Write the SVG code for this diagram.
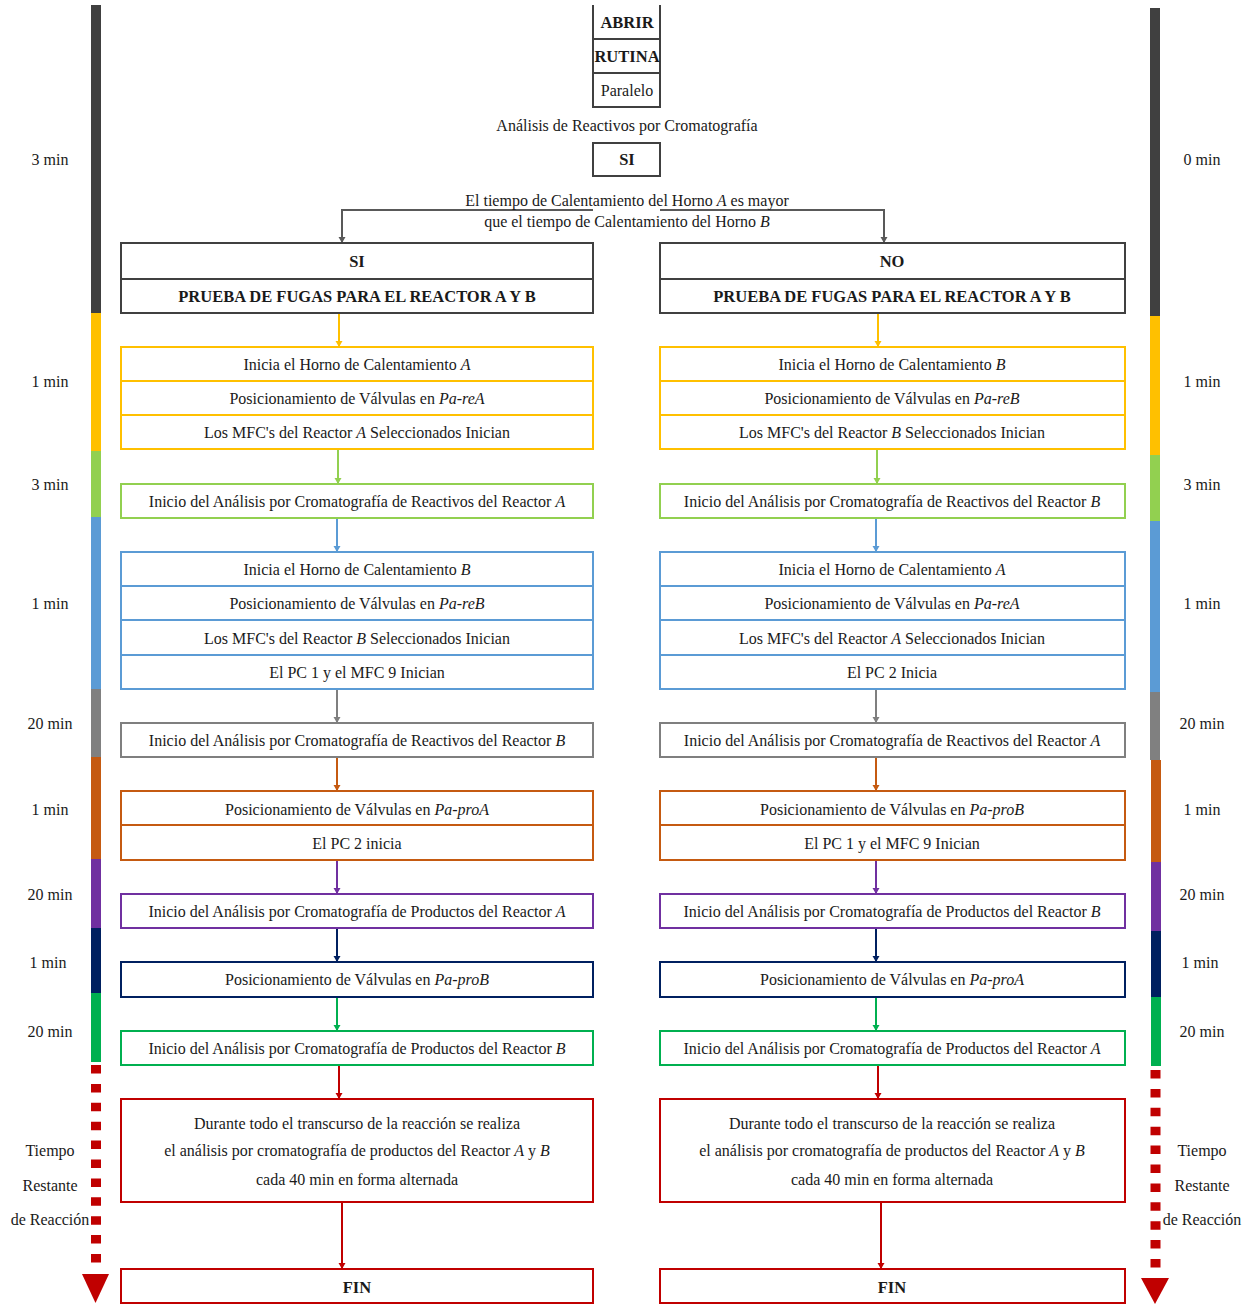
<svg xmlns="http://www.w3.org/2000/svg" width="1254" height="1304" viewBox="0 0 1254 1304">
<style>
text{font-family:"Liberation Serif","Times New Roman",serif;font-size:16px;fill:#1a1a1a;text-anchor:middle}
.b{font-weight:bold;font-size:16.5px}
.i{font-style:italic}
.bx{fill:#fff;stroke-width:2}
.k{stroke:#404040}.y{stroke:#FFC000}.lg{stroke:#92D050}.bl{stroke:#5B9BD5}.g{stroke:#7F7F7F}.o{stroke:#C55A11}.p{stroke:#7030A0}.n{stroke:#002060}.gr{stroke:#00B050}.r{stroke:#C00000}
.dv{stroke-width:2}
.c{stroke-width:2;fill:none}
</style>
<defs>
<marker id="mk" markerUnits="userSpaceOnUse" markerWidth="8" markerHeight="8" refX="6" refY="3.5" orient="auto"><path d="M0,0L6,3.5L0,7z" fill="#595959"/></marker>
<marker id="my" markerUnits="userSpaceOnUse" markerWidth="8" markerHeight="8" refX="6" refY="3.5" orient="auto"><path d="M0,0L6,3.5L0,7z" fill="#FFC000"/></marker>
<marker id="mlg" markerUnits="userSpaceOnUse" markerWidth="8" markerHeight="8" refX="6" refY="3.5" orient="auto"><path d="M0,0L6,3.5L0,7z" fill="#92D050"/></marker>
<marker id="mbl" markerUnits="userSpaceOnUse" markerWidth="8" markerHeight="8" refX="6" refY="3.5" orient="auto"><path d="M0,0L6,3.5L0,7z" fill="#5B9BD5"/></marker>
<marker id="mg" markerUnits="userSpaceOnUse" markerWidth="8" markerHeight="8" refX="6" refY="3.5" orient="auto"><path d="M0,0L6,3.5L0,7z" fill="#7F7F7F"/></marker>
<marker id="mo" markerUnits="userSpaceOnUse" markerWidth="8" markerHeight="8" refX="6" refY="3.5" orient="auto"><path d="M0,0L6,3.5L0,7z" fill="#C55A11"/></marker>
<marker id="mp" markerUnits="userSpaceOnUse" markerWidth="8" markerHeight="8" refX="6" refY="3.5" orient="auto"><path d="M0,0L6,3.5L0,7z" fill="#7030A0"/></marker>
<marker id="mn" markerUnits="userSpaceOnUse" markerWidth="8" markerHeight="8" refX="6" refY="3.5" orient="auto"><path d="M0,0L6,3.5L0,7z" fill="#002060"/></marker>
<marker id="mgr" markerUnits="userSpaceOnUse" markerWidth="8" markerHeight="8" refX="6" refY="3.5" orient="auto"><path d="M0,0L6,3.5L0,7z" fill="#00B050"/></marker>
<marker id="mr" markerUnits="userSpaceOnUse" markerWidth="8" markerHeight="8" refX="6" refY="3.5" orient="auto"><path d="M0,0L6,3.5L0,7z" fill="#C00000"/></marker>
</defs>
<rect width="1254" height="1304" fill="#fff"/>

<!-- timelines -->
<g id="timeline-left">
<rect x="91" y="5" width="10" height="308" fill="#404040"/>
<rect x="91" y="313" width="10" height="138" fill="#FFC000"/>
<rect x="91" y="451" width="10" height="66" fill="#92D050"/>
<rect x="91" y="517" width="10" height="172" fill="#5B9BD5"/>
<rect x="91" y="689" width="10" height="68" fill="#808080"/>
<rect x="91" y="757" width="10" height="102" fill="#C55A11"/>
<rect x="91" y="859" width="10" height="69" fill="#7030A0"/>
<rect x="91" y="928" width="10" height="65" fill="#002060"/>
<rect x="91" y="993" width="10" height="69" fill="#00B050"/>
<line x1="96" y1="1065" x2="96" y2="1272" stroke="#C00000" stroke-width="10" stroke-dasharray="8.5 10.4"/>
<polygon points="82,1274 109,1274 95.5,1303" fill="#C00000"/>
<text x="50" y="165">3 min</text>
<text x="50" y="387">1 min</text>
<text x="50" y="490">3 min</text>
<text x="50" y="609">1 min</text>
<text x="50" y="729">20 min</text>
<text x="50" y="815">1 min</text>
<text x="50" y="900">20 min</text>
<text x="48" y="968">1 min</text>
<text x="50" y="1037">20 min</text>
<text x="50" y="1156">Tiempo</text>
<text x="50" y="1191">Restante</text>
<text x="50" y="1225">de Reacción</text>
</g>
<g id="timeline-right">
<rect x="1150" y="8" width="10" height="308" fill="#404040"/>
<rect x="1150" y="316" width="10" height="139" fill="#FFC000"/>
<rect x="1150" y="455" width="10" height="66" fill="#92D050"/>
<rect x="1150" y="521" width="10" height="171" fill="#5B9BD5"/>
<rect x="1150" y="692" width="10" height="68" fill="#808080"/>
<rect x="1151" y="760" width="10" height="102" fill="#C55A11"/>
<rect x="1151" y="862" width="10" height="69" fill="#7030A0"/>
<rect x="1151" y="931" width="10" height="66" fill="#002060"/>
<rect x="1151" y="997" width="10" height="69" fill="#00B050"/>
<line x1="1155.5" y1="1070" x2="1155.5" y2="1276" stroke="#C00000" stroke-width="10" stroke-dasharray="8.5 10.4"/>
<polygon points="1141,1278 1169,1278 1155,1304" fill="#C00000"/>
<text x="1202" y="165">0 min</text>
<text x="1202" y="387">1 min</text>
<text x="1202" y="490">3 min</text>
<text x="1202" y="609">1 min</text>
<text x="1202" y="729">20 min</text>
<text x="1202" y="815">1 min</text>
<text x="1202" y="900">20 min</text>
<text x="1200" y="968">1 min</text>
<text x="1202" y="1037">20 min</text>
<text x="1202" y="1156">Tiempo</text>
<text x="1202" y="1191">Restante</text>
<text x="1202" y="1225">de Reacción</text>
</g>

<!-- connectors -->
<g id="connectors">
<path class="c" stroke="#595959" d="M342,210H593M660,210H884"/>
<line class="c" stroke="#595959" x1="342" y1="209" x2="342" y2="243" marker-end="url(#mk)"/>
<line class="c" stroke="#595959" x1="884" y1="209" x2="884" y2="243" marker-end="url(#mk)"/>
<line class="c" stroke="#FFC000" x1="339" y1="313" x2="339" y2="347" marker-end="url(#my)"/>
<line class="c" stroke="#FFC000" x1="878" y1="313" x2="878" y2="347" marker-end="url(#my)"/>
<line class="c" stroke="#92D050" x1="338" y1="449" x2="338" y2="484" marker-end="url(#mlg)"/>
<line class="c" stroke="#92D050" x1="877" y1="449" x2="877" y2="484" marker-end="url(#mlg)"/>
<line class="c" stroke="#5B9BD5" x1="337" y1="518" x2="337" y2="552" marker-end="url(#mbl)"/>
<line class="c" stroke="#5B9BD5" x1="876" y1="518" x2="876" y2="552" marker-end="url(#mbl)"/>
<line class="c" stroke="#7F7F7F" x1="337" y1="689" x2="337" y2="723" marker-end="url(#mg)"/>
<line class="c" stroke="#7F7F7F" x1="876" y1="689" x2="876" y2="723" marker-end="url(#mg)"/>
<line class="c" stroke="#C55A11" x1="337" y1="757" x2="337" y2="791" marker-end="url(#mo)"/>
<line class="c" stroke="#C55A11" x1="876" y1="757" x2="876" y2="791" marker-end="url(#mo)"/>
<line class="c" stroke="#7030A0" x1="337" y1="860" x2="337" y2="894" marker-end="url(#mp)"/>
<line class="c" stroke="#7030A0" x1="876" y1="860" x2="876" y2="894" marker-end="url(#mp)"/>
<line class="c" stroke="#002060" x1="337" y1="928" x2="337" y2="962" marker-end="url(#mn)"/>
<line class="c" stroke="#002060" x1="876" y1="928" x2="876" y2="962" marker-end="url(#mn)"/>
<line class="c" stroke="#00B050" x1="337" y1="997" x2="337" y2="1031" marker-end="url(#mgr)"/>
<line class="c" stroke="#00B050" x1="876" y1="997" x2="876" y2="1031" marker-end="url(#mgr)"/>
<line class="c" stroke="#C00000" x1="339" y1="1065" x2="339" y2="1099" marker-end="url(#mr)"/>
<line class="c" stroke="#C00000" x1="878" y1="1065" x2="878" y2="1099" marker-end="url(#mr)"/>
<line class="c" stroke="#C00000" x1="342" y1="1202" x2="342" y2="1269" marker-end="url(#mr)"/>
<line class="c" stroke="#C00000" x1="881" y1="1202" x2="881" y2="1269" marker-end="url(#mr)"/>
</g>

<!-- top nodes -->
<g id="start">
<path d="M593,5V107H660V5M593,39H660M593,73H660" fill="none" stroke="#404040" stroke-width="2"/>
<text class="b" x="627" y="28">ABRIR</text>
<text class="b" x="627" y="62">RUTINA</text>
<text x="627" y="96">Paralelo</text>
</g>
<g id="analysis-label"><text x="627" y="131">Análisis de Reactivos por Cromatografía</text></g>
<g id="si-top">
<rect class="bx k" x="593" y="143" width="67" height="33"/>
<text class="b" x="627" y="165">SI</text>
</g>
<g id="condition">
<text x="627" y="206">El tiempo de Calentamiento del Horno <tspan class="i">A</tspan>  es mayor</text>
<text x="627" y="227">que el tiempo de Calentamiento del Horno <tspan class="i">B</tspan></text>
</g>

<!-- left column -->
<g id="L-header">
<rect class="bx k" x="121" y="243" width="472" height="70"/>
<line class="dv k" x1="121" y1="279" x2="593" y2="279"/>
<text class="b" x="357" y="267">SI</text>
<text class="b" x="357" y="302">PRUEBA DE FUGAS PARA EL REACTOR A Y B</text>
</g>
<g id="L-yellow">
<rect class="bx y" x="121" y="347" width="472" height="102"/>
<line class="dv y" x1="121" y1="381" x2="593" y2="381"/>
<line class="dv y" x1="121" y1="415" x2="593" y2="415"/>
<text x="357" y="370">Inicia el Horno de Calentamiento <tspan class="i">A</tspan></text>
<text x="357" y="404">Posicionamiento de Válvulas en <tspan class="i">Pa-reA</tspan></text>
<text x="357" y="438">Los MFC's del Reactor <tspan class="i">A</tspan> Seleccionados Inician</text>
</g>
<g id="L-lgreen">
<rect class="bx lg" x="121" y="484" width="472" height="34"/>
<text x="357" y="507">Inicio del Análisis por Cromatografía de Reactivos del Reactor <tspan class="i">A</tspan></text>
</g>
<g id="L-blue">
<rect class="bx bl" x="121" y="552" width="472" height="137"/>
<line class="dv bl" x1="121" y1="586" x2="593" y2="586"/>
<line class="dv bl" x1="121" y1="620" x2="593" y2="620"/>
<line class="dv bl" x1="121" y1="655" x2="593" y2="655"/>
<text x="357" y="575">Inicia el Horno de Calentamiento <tspan class="i">B</tspan></text>
<text x="357" y="609">Posicionamiento de Válvulas en <tspan class="i">Pa-reB</tspan></text>
<text x="357" y="644">Los MFC's del Reactor <tspan class="i">B</tspan>  Seleccionados Inician</text>
<text x="357" y="678">El PC 1 y el MFC 9 Inician</text>
</g>
<g id="L-gray">
<rect class="bx g" x="121" y="723" width="472" height="34"/>
<text x="357" y="746">Inicio del Análisis por Cromatografía de Reactivos del Reactor <tspan class="i">B</tspan></text>
</g>
<g id="L-orange">
<rect class="bx o" x="121" y="791" width="472" height="69"/>
<line class="dv o" x1="121" y1="825" x2="593" y2="825"/>
<text x="357" y="815">Posicionamiento de Válvulas en <tspan class="i">Pa-proA</tspan></text>
<text x="357" y="849">El PC 2 inicia</text>
</g>
<g id="L-purple">
<rect class="bx p" x="121" y="894" width="472" height="34"/>
<text x="357" y="917">Inicio del Análisis por Cromatografía de Productos del Reactor <tspan class="i">A</tspan></text>
</g>
<g id="L-navy">
<rect class="bx n" x="121" y="962" width="472" height="35"/>
<text x="357" y="985">Posicionamiento de Válvulas en <tspan class="i">Pa-proB</tspan></text>
</g>
<g id="L-green">
<rect class="bx gr" x="121" y="1031" width="472" height="34"/>
<text x="357" y="1054">Inicio del Análisis por Cromatografía de Productos del Reactor <tspan class="i">B</tspan></text>
</g>
<g id="L-red">
<rect class="bx r" x="121" y="1099" width="472" height="103"/>
<text x="357" y="1129">Durante todo el transcurso de la reacción se realiza</text>
<text x="357" y="1156">el análisis por cromatografía de productos del Reactor <tspan class="i">A</tspan>  y <tspan class="i">B</tspan></text>
<text x="357" y="1185">cada 40 min en forma alternada</text>
</g>
<g id="L-fin">
<rect class="bx r" x="121" y="1269" width="472" height="34"/>
<text class="b" x="357" y="1293">FIN</text>
</g>

<!-- right column -->
<g id="R-header">
<rect class="bx k" x="660" y="243" width="465" height="70"/>
<line class="dv k" x1="660" y1="279" x2="1125" y2="279"/>
<text class="b" x="892" y="267">NO</text>
<text class="b" x="892" y="302">PRUEBA DE FUGAS PARA EL REACTOR A Y B</text>
</g>
<g id="R-yellow">
<rect class="bx y" x="660" y="347" width="465" height="102"/>
<line class="dv y" x1="660" y1="381" x2="1125" y2="381"/>
<line class="dv y" x1="660" y1="415" x2="1125" y2="415"/>
<text x="892" y="370">Inicia el Horno de Calentamiento <tspan class="i">B</tspan></text>
<text x="892" y="404">Posicionamiento de Válvulas en <tspan class="i">Pa-reB</tspan></text>
<text x="892" y="438">Los MFC's del Reactor <tspan class="i">B</tspan> Seleccionados Inician</text>
</g>
<g id="R-lgreen">
<rect class="bx lg" x="660" y="484" width="465" height="34"/>
<text x="892" y="507">Inicio del Análisis por Cromatografía de Reactivos del Reactor <tspan class="i">B</tspan></text>
</g>
<g id="R-blue">
<rect class="bx bl" x="660" y="552" width="465" height="137"/>
<line class="dv bl" x1="660" y1="586" x2="1125" y2="586"/>
<line class="dv bl" x1="660" y1="620" x2="1125" y2="620"/>
<line class="dv bl" x1="660" y1="655" x2="1125" y2="655"/>
<text x="892" y="575">Inicia el Horno de Calentamiento <tspan class="i">A</tspan></text>
<text x="892" y="609">Posicionamiento de Válvulas en <tspan class="i">Pa-reA</tspan></text>
<text x="892" y="644">Los MFC's del Reactor <tspan class="i">A</tspan>  Seleccionados Inician</text>
<text x="892" y="678">El PC 2 Inicia</text>
</g>
<g id="R-gray">
<rect class="bx g" x="660" y="723" width="465" height="34"/>
<text x="892" y="746">Inicio del Análisis por Cromatografía de Reactivos del Reactor <tspan class="i">A</tspan></text>
</g>
<g id="R-orange">
<rect class="bx o" x="660" y="791" width="465" height="69"/>
<line class="dv o" x1="660" y1="825" x2="1125" y2="825"/>
<text x="892" y="815">Posicionamiento de Válvulas en <tspan class="i">Pa-proB</tspan></text>
<text x="892" y="849">El PC 1 y el MFC 9 Inician</text>
</g>
<g id="R-purple">
<rect class="bx p" x="660" y="894" width="465" height="34"/>
<text x="892" y="917">Inicio del Análisis por Cromatografía de Productos del Reactor <tspan class="i">B</tspan></text>
</g>
<g id="R-navy">
<rect class="bx n" x="660" y="962" width="465" height="35"/>
<text x="892" y="985">Posicionamiento de Válvulas en <tspan class="i">Pa-proA</tspan></text>
</g>
<g id="R-green">
<rect class="bx gr" x="660" y="1031" width="465" height="34"/>
<text x="892" y="1054">Inicio del Análisis por Cromatografía de Productos del Reactor <tspan class="i">A</tspan></text>
</g>
<g id="R-red">
<rect class="bx r" x="660" y="1099" width="465" height="103"/>
<text x="892" y="1129">Durante todo el transcurso de la reacción se realiza</text>
<text x="892" y="1156">el análisis por cromatografía de productos del Reactor <tspan class="i">A</tspan>  y <tspan class="i">B</tspan></text>
<text x="892" y="1185">cada 40 min en forma alternada</text>
</g>
<g id="R-fin">
<rect class="bx r" x="660" y="1269" width="465" height="34"/>
<text class="b" x="892" y="1293">FIN</text>
</g>
</svg>
